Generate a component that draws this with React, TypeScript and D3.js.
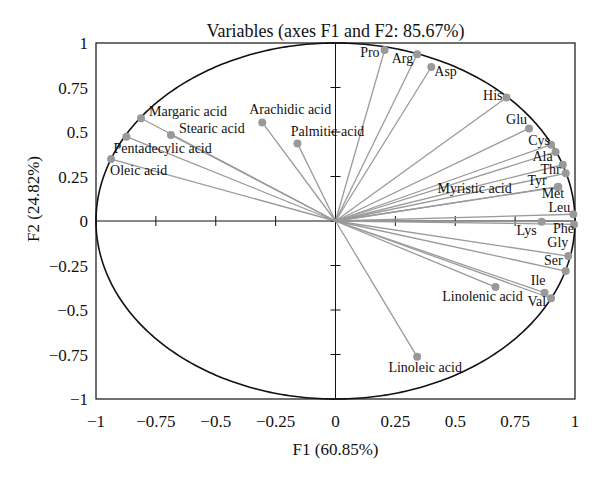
import React from "react";
import * as d3 from "d3";

const variables = [
  "Pro", "Arg", "Asp", "His", "Glu", "Cys", "Ala", "Thr", "Tyr", "Met",
  "Myristic acid", "Leu", "Phe", "Lys", "Gly", "Ser", "Ile", "Val",
  "Linolenic acid", "Linoleic acid", "Margaric acid", "Pentadecylic acid",
  "Oleic acid", "Stearic acid", "Arachidic acid", "Palmitic acid",
];
const f1Values = [
  0.205, 0.341, 0.4, 0.714, 0.808, 0.9, 0.919, 0.949, 0.961, 0.93,
  0.928, 0.993, 0.996, 0.861, 0.972, 0.961, 0.873, 0.9,
  0.668, 0.341, -0.812, -0.873, -0.937, -0.687, -0.306, -0.159,
];
const f2Values = [
  0.96, 0.937, 0.865, 0.694, 0.52, 0.429, 0.388, 0.316, 0.268, 0.193,
  0.19, 0.038, -0.019, -0.004, -0.197, -0.281, -0.403, -0.434,
  -0.371, -0.763, 0.577, 0.474, 0.348, 0.483, 0.554, 0.436,
];
const tickValues = [-1, -0.75, -0.5, -0.25, 0, 0.25, 0.5, 0.75, 1];
const titleText = "Variables (axes F1 and F2: 85.67%)";
const xTitle = "F1 (60.85%)";
const yTitle = "F2 (24.82%)";

// label placement (layout only): [dx, dy, anchor]
const labelPlacement: Record<string, [number, number, string]> = {
  Pro: [-5, 7, "end"],
  Arg: [-4, 9, "end"],
  Asp: [3, 9, "start"],
  His: [-4, 3, "end"],
  Glu: [-2, -4, "end"],
  Cys: [-1, 0, "end"],
  Ala: [-3, 9, "end"],
  Thr: [-2, 9, "end"],
  Tyr: [-19, 12, "end"],
  Met: [6, 11.5, "end"],
  "Myristic acid": [-46, 6, "end"],
  Leu: [-3, -2, "end"],
  Phe: [0, 9, "end"],
  Lys: [-5, 13, "end"],
  Gly: [0, -9, "end"],
  Ser: [-3, -6, "end"],
  Ile: [1, -8, "end"],
  Val: [-5, 8, "end"],
  "Linolenic acid": [-13, 13.5, "middle"],
  "Linoleic acid": [8, 15, "middle"],
  "Margaric acid": [8, -2, "start"],
  "Stearic acid": [8, -2, "start"],
  "Pentadecylic acid": [-13, 16, "start"],
  "Oleic acid": [-1, 16, "start"],
  "Arachidic acid": [-13, -8, "start"],
  "Palmitic acid": [-6.6, -7.6, "start"],
};

const FONT = "'Liberation Serif', 'Times New Roman', serif";

function fmt(v: number) {
  const s = String(Math.abs(v));
  return v < 0 ? "\u2212" + s : s;
}

export default function App() {
  const W = 600, H = 482;
  const x = d3.scaleLinear().domain([-1, 1]).range([96, 575]);
  const y = d3.scaleLinear().domain([-1, 1]).range([399, 43]);
  const x0 = x(0), y0 = y(0);
  const angles = d3.range(0, 361, 1).map((a) => (a * Math.PI) / 180);
  const circle = d3
    .line<number>()
    .x((a) => x(Math.cos(a)))
    .y((a) => y(Math.sin(a)))(angles) as string;

  return (
    <svg
      width={W}
      height={H}
      style={{ position: "absolute", left: 0, top: 0, background: "#fff" }}
      fontFamily={FONT}
    >
      <rect x={0} y={0} width={W} height={H} fill="#fff" />
      <text x={x0} y={37} textAnchor="middle" fontSize={18} fill="#111">
        {titleText}
      </text>
      <rect
        x={x(-1)}
        y={y(1)}
        width={x(1) - x(-1)}
        height={y(-1) - y(1)}
        fill="none"
        stroke="#111"
        strokeWidth={1.2}
      />
      <path d={circle} fill="none" stroke="#111" strokeWidth={1.6} />
      <line x1={x(-1)} x2={x(1)} y1={y0} y2={y0} stroke="#111" strokeWidth={1} />
      <line x1={x0} x2={x0} y1={y(1)} y2={y(-1)} stroke="#111" strokeWidth={1} />
      {tickValues.map((t) => (
        <g key={"t" + t}>
          <line x1={x(t)} x2={x(t)} y1={y0 - 5} y2={y0 + 5} stroke="#111" strokeWidth={1} />
          <line x1={x0 - 5} x2={x0 + 5} y1={y(t)} y2={y(t)} stroke="#111" strokeWidth={1} />
          <text x={x(t)} y={427} textAnchor="middle" fontSize={17} fill="#111">
            {fmt(t)}
          </text>
          <text x={88} y={y(t) + 6} textAnchor="end" fontSize={17} fill="#111">
            {fmt(t)}
          </text>
        </g>
      ))}
      {variables.map((v, i) => (
        <line
          key={"l" + v}
          x1={x0}
          y1={y0}
          x2={x(f1Values[i])}
          y2={y(f2Values[i])}
          stroke="#9a9a9a"
          strokeWidth={1.3}
        />
      ))}
      {variables.map((v, i) => (
        <circle
          key={"c" + v}
          cx={x(f1Values[i])}
          cy={y(f2Values[i])}
          r={4}
          fill="#999"
        />
      ))}
      {variables.map((v, i) => {
        const p = labelPlacement[v] || [4, -4, "start"];
        return (
          <text
            key={"n" + v}
            x={x(f1Values[i]) + p[0]}
            y={y(f2Values[i]) + p[1]}
            textAnchor={p[2] as any}
            fontSize={14}
            fill="#111"
          >
            {v}
          </text>
        );
      })}
      <text x={x0} y={455} textAnchor="middle" fontSize={17} fill="#111">
        {xTitle}
      </text>
      <text
        transform={`translate(39, 199) rotate(-90)`}
        textAnchor="middle"
        fontSize={17}
        fill="#111"
      >
        {yTitle}
      </text>
    </svg>
  );
}
